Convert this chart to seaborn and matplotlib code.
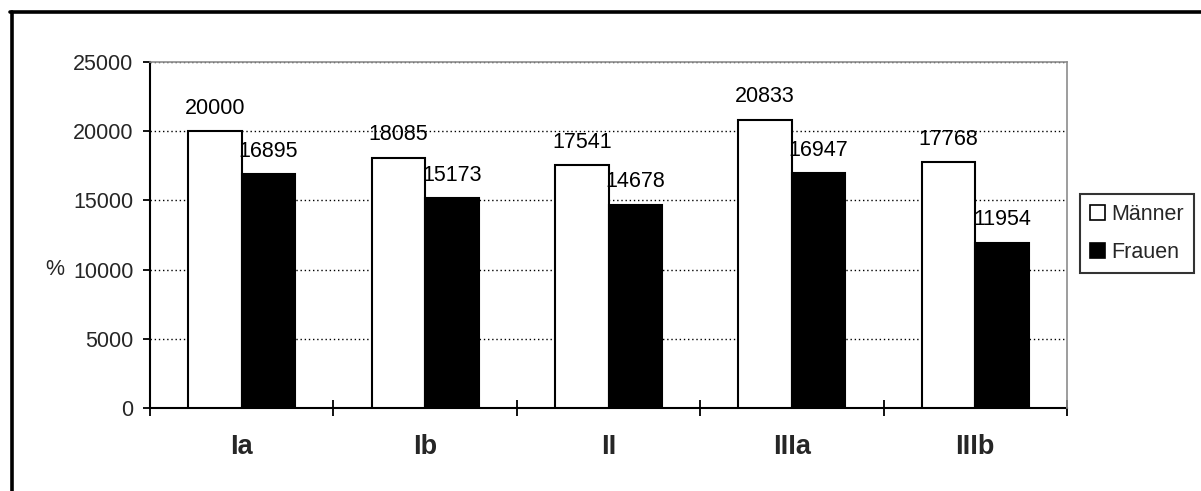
import matplotlib
matplotlib.use("Agg")
import matplotlib.pyplot as plt
import pandas as pd
import seaborn as sns
from matplotlib.lines import Line2D
from matplotlib.patches import Patch
from matplotlib.ticker import FixedLocator

# data
kategorien = ["Ia", "Ib", "II", "IIIa", "IIIb"]
maenner = [20000, 18085, 17541, 20833, 17768]
frauen = [16895, 15173, 14678, 16947, 11954]
gruppen = ["Männer", "Frauen"]
farben = {"Männer": "white", "Frauen": "black"}
y_ticks = [0, 5000, 10000, 15000, 20000, 25000]

df = pd.DataFrame({
    "Kategorie": kategorien * 2,
    "Gruppe": ["Männer"] * len(kategorien) + ["Frauen"] * len(kategorien),
    "Wert": maenner + frauen,
})

sns.set_theme(style="white")
plt.rcParams["font.family"] = ["Liberation Sans", "DejaVu Sans"]

W, H = 1201, 491
fig = plt.figure(figsize=(W / 100, H / 100), dpi=100)
ax = fig.add_axes([150 / W, 1 - 408 / H, 917 / W, 346 / H])

sns.barplot(data=df, x="Kategorie", y="Wert", hue="Gruppe",
            order=kategorien, hue_order=gruppen, palette=farben,
            edgecolor="black", linewidth=1.5, width=0.584, gap=0,
            saturation=1, legend=False, ax=ax, zorder=3)

# value labels above bars
for cont, vals in zip(ax.containers, [maenner, frauen]):
    ax.bar_label(cont, labels=[str(v) for v in vals], padding=9,
                 fontsize=15.5, color="black")

ax.set_xlim(-0.5, len(kategorien) - 0.5)
ax.set_ylim(0, 25000)
ax.set_yticks(y_ticks)
ax.set_yticklabels([str(t) for t in y_ticks], fontsize=15.5)
ax.tick_params(axis="y", direction="out", length=5, width=1.3,
               color="black", pad=7, left=True)

# category labels centered, tick marks between groups (Excel style)
ax.set_xticks(range(len(kategorien)))
ax.set_xticklabels(kategorien, fontsize=19.5, fontweight="bold")
ax.tick_params(axis="x", which="major", length=0, pad=19)
ax.xaxis.set_minor_locator(FixedLocator([i - 0.5 for i in range(len(kategorien) + 1)]))
ax.tick_params(axis="x", which="minor", direction="inout", length=12,
               width=1.3, color="black", bottom=True)

ax.set_xlabel("")
ax.set_ylabel("%", rotation=0, fontsize=15.5, va="center", ha="center")
ax.yaxis.set_label_coords(-0.104, 0.40)

ax.set_axisbelow(True)
ax.yaxis.grid(True, color="black", linestyle=(0, (1, 2)), linewidth=1)
ax.xaxis.grid(False)

for side in ["left", "bottom"]:
    ax.spines[side].set_color("black")
    ax.spines[side].set_linewidth(1.5)
for side in ["top", "right"]:
    ax.spines[side].set_color("#8c8c8c")
    ax.spines[side].set_linewidth(1.2)
    ax.spines[side].set_zorder(4)

handles = [Patch(facecolor=farben[g], edgecolor="black", linewidth=1.2, label=g)
           for g in gruppen]
leg = fig.legend(handles=handles, loc="upper left",
                 bbox_to_anchor=(1080 / W, 1 - 194 / H), borderaxespad=0,
                 fontsize=15.5, frameon=True, fancybox=False,
                 handlelength=0.7, handleheight=0.7, handletextpad=0.3,
                 borderpad=0.47, labelspacing=0.78)
leg.get_frame().set_edgecolor("black")
leg.get_frame().set_linewidth(1.5)

# outer chart frame (cropped at right and bottom)
fig.add_artist(Line2D([10 / W, 1], [1 - 11.5 / H] * 2, transform=fig.transFigure,
                      color="black", linewidth=2.6))
fig.add_artist(Line2D([12 / W] * 2, [0, 1 - 11.5 / H], transform=fig.transFigure,
                      color="black", linewidth=2.6))

fig.savefig("out.png", dpi=100)
